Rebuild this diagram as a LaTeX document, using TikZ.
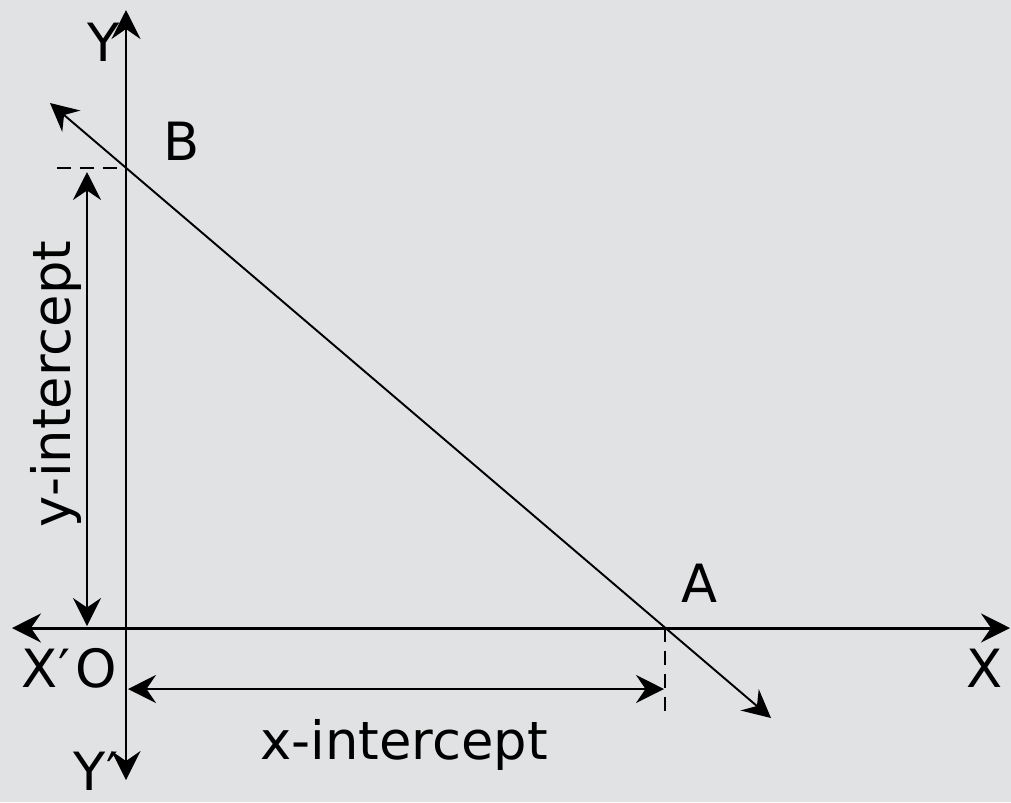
\documentclass[tikz,border=0pt]{standalone}
\usepackage{fontspec}
\setmainfont{DejaVu Sans}
\usetikzlibrary{arrows.meta, positioning}
\definecolor{marble}{RGB}{224,226,228}

\begin{document}
\begin{tikzpicture}[
    x=0.02cm, y=-0.02cm,
    axis/.style={draw, line width=1.7pt, -{Stealth[length=0.58cm, width=0.58cm, inset=0.2cm]}},
    line/.style={draw, line width=1.1pt, {Stealth[length=0.56cm, width=0.56cm, inset=0.19cm]}-{Stealth[length=0.56cm, width=0.56cm, inset=0.19cm]}},
    dim/.style={draw, line width=1.1pt, {Stealth[length=0.56cm, width=0.56cm, inset=0.19cm]}-{Stealth[length=0.56cm, width=0.56cm, inset=0.19cm]}},
    guide/.style={draw, line width=1.1pt, dash pattern=on 8pt off 5pt},
    lbl/.style={inner sep=0pt, font=\fontsize{30}{35}\selectfont}
]

% Background
\clip (0,0) rectangle (1011,802);
\fill[marble] (0,0) rectangle (1011,802);

% Points
\coordinate (O) at (126,628);
\coordinate (A) at (665,628);
\coordinate (B) at (126,168);
\coordinate (xl) at (12,628);
\coordinate (xr) at (1010,628);
\coordinate (yt) at (126,10);
\coordinate (yb) at (126,780);
\coordinate (lu) at (50,103);
\coordinate (ld) at (771,718);
\coordinate (bl) at (57,168);
\coordinate (ad) at (665,718);
\coordinate (yit) at (87,172);
\coordinate (yib) at (87,626);
\coordinate (xil) at (128,689);
\coordinate (xir) at (664,689);

% Axes
\path[axis] (O) -- (xl);
\path[axis] (O) -- (xr);
\path[axis] (O) -- (yt);
\path[axis] (O) -- (yb);

% Line through A and B
\path[line] (lu) -- (ld);

% Dashed guides
\path[guide] (bl) -- (B);
\path[guide] (A) -- (ad);

% Intercepts
\path[dim] (yit) -- (yib);
\path[dim] (xil) -- (xir);

% Labels
\node[lbl] (ylab) at (104,42) {Y};
\node[lbl] (yplab) at (96,771) {Y′};
\node[lbl] (xlab) at (985,668) {X};
\node[lbl] (xplab) at (46,668) {X′};
\node[lbl] (olab) at (96,668) {O};
\node[lbl] (blab) at (182,141) {B};
\node[lbl] (alab) at (700,583) {A};
\node[lbl] (xint) at (404,745) {x-intercept};
\node[lbl, rotate=90] (yint) at (56,384) {y-intercept};

\end{tikzpicture}
\end{document}
